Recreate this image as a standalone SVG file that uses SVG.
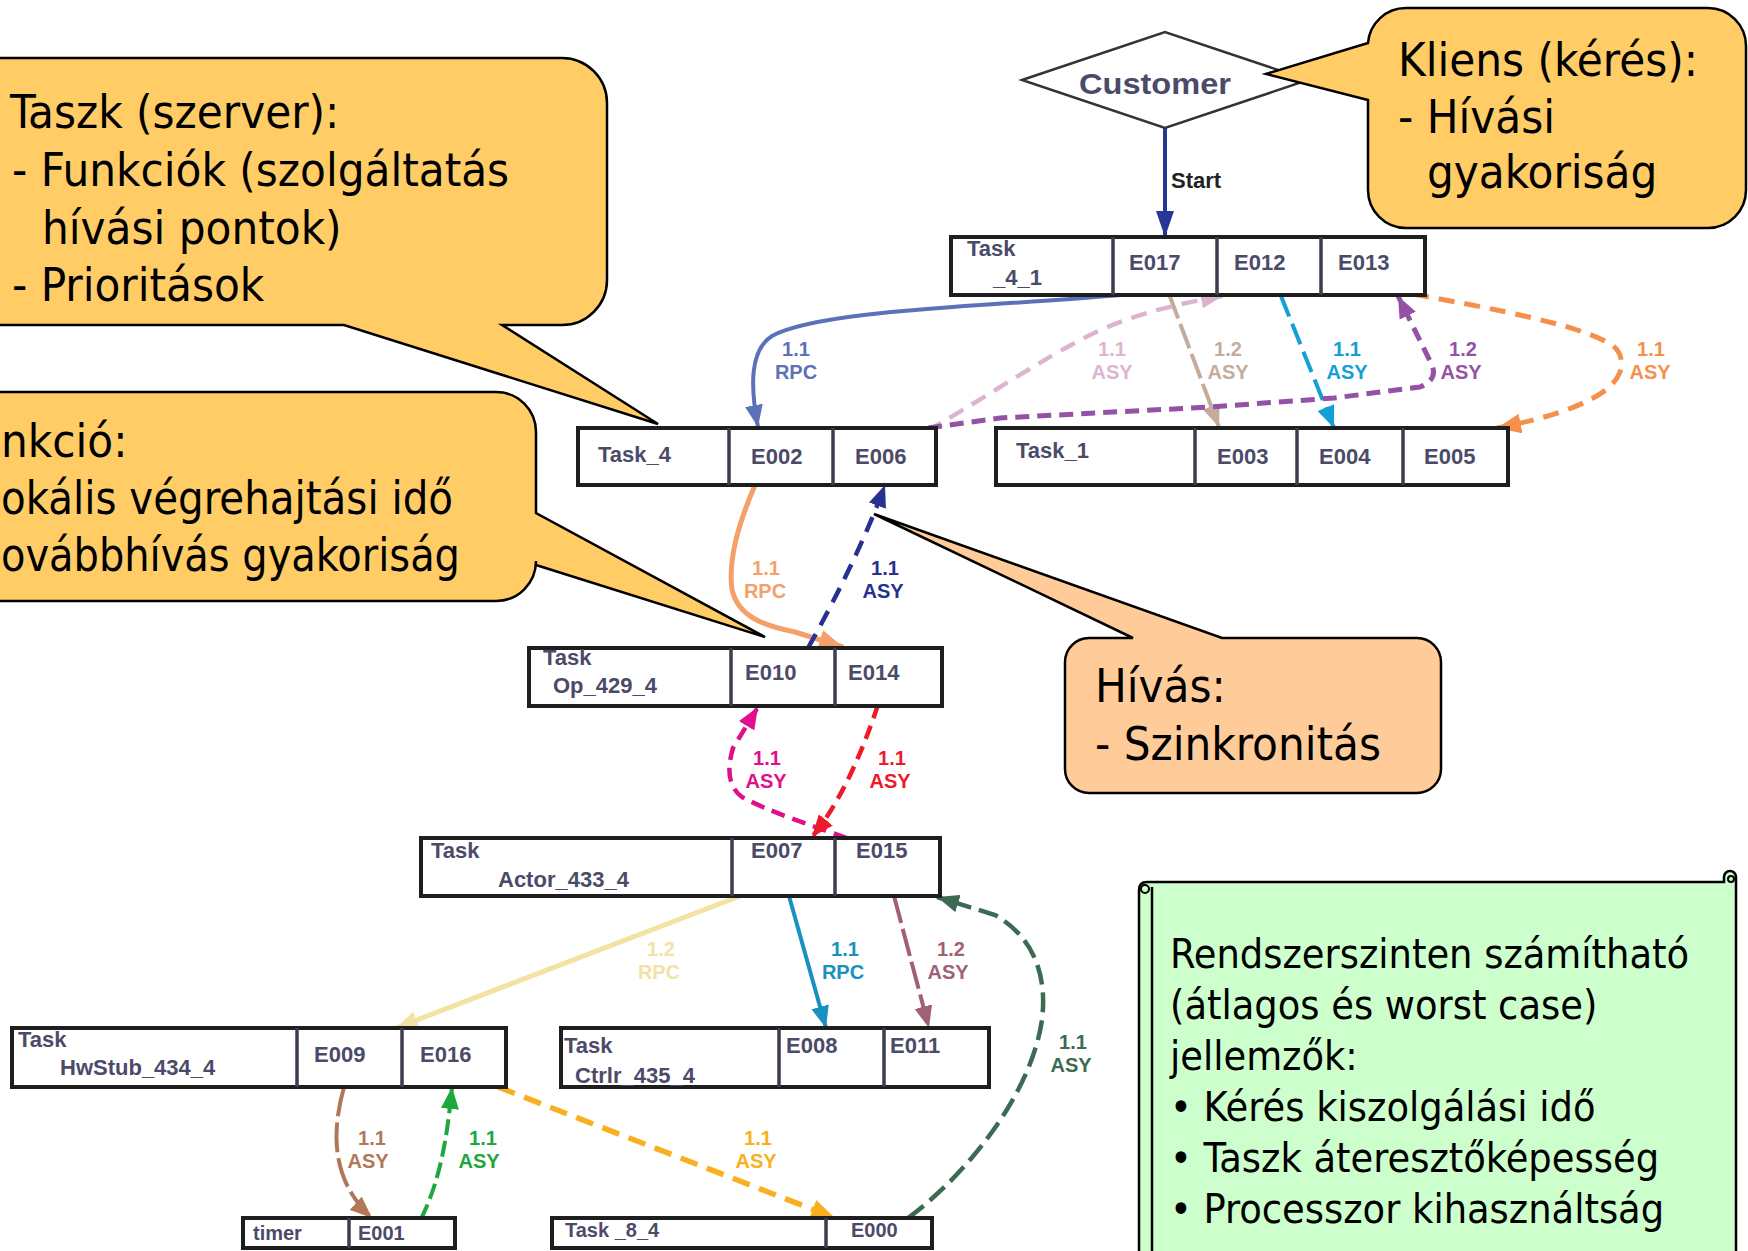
<svg xmlns="http://www.w3.org/2000/svg" width="1748" height="1251" viewBox="0 0 1748 1251">
<style>
.bg{fill:#fff}
.box{fill:#fff;stroke:#1e1e1e;stroke-width:4}
.dv{stroke:#3c3c4c;stroke-width:3.5}
.t{font-family:"Liberation Sans",Arial,sans-serif;font-weight:bold;font-size:22px;fill:#4b4b69}
.lb{font-family:"Liberation Sans",Arial,sans-serif;font-weight:bold;font-size:20px;text-anchor:middle}
.big{font-family:"DejaVu Sans Condensed","DejaVu Sans",sans-serif;font-stretch:condensed;font-size:47px;fill:#000}
.note{font-family:"DejaVu Sans Condensed","DejaVu Sans",sans-serif;font-stretch:condensed;font-size:41px;fill:#000}
.co{fill:#FFCC66;stroke:#000;stroke-width:2.5;stroke-linejoin:miter}
.c{fill:none}
</style>
<defs>
<marker id="a-blue" markerUnits="userSpaceOnUse" markerWidth="24" markerHeight="18" refX="22" refY="9" orient="auto"><path d="M0,0 L22,9 L0,18 Z" fill="#5b72b8"/></marker>
<marker id="a-pink" markerUnits="userSpaceOnUse" markerWidth="24" markerHeight="18" refX="22" refY="9" orient="auto"><path d="M0,0 L22,9 L0,18 Z" fill="#dcb4d0"/></marker>
<marker id="a-tan" markerUnits="userSpaceOnUse" markerWidth="24" markerHeight="18" refX="22" refY="9" orient="auto"><path d="M0,0 L22,9 L0,18 Z" fill="#c4ab9b"/></marker>
<marker id="a-cyan" markerUnits="userSpaceOnUse" markerWidth="24" markerHeight="18" refX="22" refY="9" orient="auto"><path d="M0,0 L22,9 L0,18 Z" fill="#12a0d6"/></marker>
<marker id="a-purple" markerUnits="userSpaceOnUse" markerWidth="24" markerHeight="18" refX="22" refY="9" orient="auto"><path d="M0,0 L22,9 L0,18 Z" fill="#9452a4"/></marker>
<marker id="a-orange" markerUnits="userSpaceOnUse" markerWidth="26" markerHeight="20" refX="24" refY="10" orient="auto"><path d="M0,0 L24,10 L0,20 Z" fill="#f4904c"/></marker>
<marker id="a-salmon" markerUnits="userSpaceOnUse" markerWidth="26" markerHeight="20" refX="24" refY="10" orient="auto"><path d="M0,0 L24,10 L0,20 Z" fill="#f4a06a"/></marker>
<marker id="a-navy" markerUnits="userSpaceOnUse" markerWidth="24" markerHeight="18" refX="22" refY="9" orient="auto"><path d="M0,0 L22,9 L0,18 Z" fill="#283090"/></marker>
<marker id="a-start" markerUnits="userSpaceOnUse" markerWidth="28" markerHeight="18" refX="26" refY="9" orient="auto"><path d="M0,0 L26,9 L0,18 Z" fill="#2a3598"/></marker>
<marker id="a-mag" markerUnits="userSpaceOnUse" markerWidth="24" markerHeight="18" refX="22" refY="9" orient="auto"><path d="M0,0 L22,9 L0,18 Z" fill="#e0108c"/></marker>
<marker id="a-red" markerUnits="userSpaceOnUse" markerWidth="24" markerHeight="18" refX="22" refY="9" orient="auto"><path d="M0,0 L22,9 L0,18 Z" fill="#ee1a2a"/></marker>
<marker id="a-pale" markerUnits="userSpaceOnUse" markerWidth="24" markerHeight="18" refX="22" refY="9" orient="auto"><path d="M0,0 L22,9 L0,18 Z" fill="#f2e2a4"/></marker>
<marker id="a-teal" markerUnits="userSpaceOnUse" markerWidth="24" markerHeight="18" refX="22" refY="9" orient="auto"><path d="M0,0 L22,9 L0,18 Z" fill="#1890c0"/></marker>
<marker id="a-mauve" markerUnits="userSpaceOnUse" markerWidth="24" markerHeight="18" refX="22" refY="9" orient="auto"><path d="M0,0 L22,9 L0,18 Z" fill="#a06078"/></marker>
<marker id="a-dgreen" markerUnits="userSpaceOnUse" markerWidth="24" markerHeight="18" refX="22" refY="9" orient="auto"><path d="M0,0 L22,9 L0,18 Z" fill="#3c6a52"/></marker>
<marker id="a-brown" markerUnits="userSpaceOnUse" markerWidth="24" markerHeight="18" refX="22" refY="9" orient="auto"><path d="M0,0 L22,9 L0,18 Z" fill="#b07858"/></marker>
<marker id="a-green" markerUnits="userSpaceOnUse" markerWidth="24" markerHeight="18" refX="22" refY="9" orient="auto"><path d="M0,0 L22,9 L0,18 Z" fill="#1ca83c"/></marker>
<marker id="a-gold" markerUnits="userSpaceOnUse" markerWidth="26" markerHeight="20" refX="24" refY="10" orient="auto"><path d="M0,0 L24,10 L0,20 Z" fill="#f8b020"/></marker>
</defs>
<rect class="bg" x="0" y="0" width="1748" height="1251"/>

<g id="connectors">
<path class="c" d="M1165,128 L1165,237" stroke="#2a3598" stroke-width="4" marker-end="url(#a-start)"/>
<path class="c" d="M1121,295 C980,307 820,310 772,336 C750,350 750,385 758,427" stroke="#5b72b8" stroke-width="4" marker-end="url(#a-blue)"/>
<path class="c" d="M927,431 C990,395 1040,360 1090,335 C1130,315 1180,303 1223,296" stroke="#dcb4d0" stroke-width="4.5" stroke-dasharray="16 10" marker-end="url(#a-pink)"/>
<path class="c" d="M1169,294 L1219,427" stroke="#c4ab9b" stroke-width="4" stroke-dasharray="26 6" marker-end="url(#a-tan)"/>
<path class="c" d="M1281,296 L1334,428" stroke="#12a0d6" stroke-width="4" stroke-dasharray="22 8" marker-end="url(#a-cyan)"/>
<path class="c" d="M928,428 L1000,418 L1210,407 L1334,398 L1420,387 Q1438,380 1432,365 L1398,296" stroke="#9452a4" stroke-width="5" stroke-dasharray="14 8" marker-end="url(#a-purple)"/>
<path class="c" d="M1413,294 C1500,310 1580,325 1612,345 Q1625,355 1620,372 C1610,400 1550,418 1497,428" stroke="#f4904c" stroke-width="5" stroke-dasharray="16 10" marker-end="url(#a-orange)"/>
<path class="c" d="M755,485 C738,525 728,560 732,590 C738,615 760,625 795,632 L843,647" stroke="#f4a06a" stroke-width="5" marker-end="url(#a-salmon)"/>
<path class="c" d="M808,648 C835,600 865,540 885,485" stroke="#283090" stroke-width="4.5" stroke-dasharray="16 10" marker-end="url(#a-navy)"/>
<path class="c" d="M847,838 C810,825 770,812 742,797 C726,785 728,765 733,748 L758,707" stroke="#e0108c" stroke-width="4.5" stroke-dasharray="14 8" marker-end="url(#a-mag)"/>
<path class="c" d="M878,705 C862,752 842,800 812,837" stroke="#ee1a2a" stroke-width="4.5" stroke-dasharray="14 8" marker-end="url(#a-red)"/>
<path class="c" d="M740,896 L396,1028" stroke="#f2e2a4" stroke-width="5" marker-end="url(#a-pale)"/>
<path class="c" d="M789,896 L826,1028" stroke="#1890c0" stroke-width="4" marker-end="url(#a-teal)"/>
<path class="c" d="M894,896 L929,1028" stroke="#a06078" stroke-width="4" stroke-dasharray="28 6" marker-end="url(#a-mauve)"/>
<path class="c" d="M908,1218 C960,1180 1030,1100 1042,1020 C1048,970 1030,935 995,915 L937,897" stroke="#3c6a52" stroke-width="4.5" stroke-dasharray="20 8" marker-end="url(#a-dgreen)"/>
<path class="c" d="M344,1087 C332,1130 330,1180 372,1218" stroke="#b07858" stroke-width="4" stroke-dasharray="30 6" marker-end="url(#a-brown)"/>
<path class="c" d="M421,1219 C440,1180 447,1140 452,1087" stroke="#1ca83c" stroke-width="4" stroke-dasharray="16 6" marker-end="url(#a-green)"/>
<path class="c" d="M498,1087 L835,1218" stroke="#f8b020" stroke-width="5.5" stroke-dasharray="18 10" marker-end="url(#a-gold)"/>

<text class="lb" x="1171" y="188" style="text-anchor:start;font-size:22px" fill="#222">Start</text>
<text class="lb" fill="#5b72b8"><tspan x="796" y="356">1.1</tspan><tspan x="796" y="379">RPC</tspan></text>
<text class="lb" fill="#dcb4d0"><tspan x="1112" y="356">1.1</tspan><tspan x="1112" y="379">ASY</tspan></text>
<text class="lb" fill="#c4ab9b"><tspan x="1228" y="356">1.2</tspan><tspan x="1228" y="379">ASY</tspan></text>
<text class="lb" fill="#12a0d6"><tspan x="1347" y="356">1.1</tspan><tspan x="1347" y="379">ASY</tspan></text>
<text class="lb" fill="#9452a4"><tspan x="1463" y="356">1.2</tspan><tspan x="1461" y="379">ASY</tspan></text>
<text class="lb" fill="#f4904c"><tspan x="1651" y="356">1.1</tspan><tspan x="1650" y="379">ASY</tspan></text>
<text class="lb" fill="#f4a06a"><tspan x="766" y="575">1.1</tspan><tspan x="765" y="598">RPC</tspan></text>
<text class="lb" fill="#283090"><tspan x="885" y="575">1.1</tspan><tspan x="883" y="598">ASY</tspan></text>
<text class="lb" fill="#e0108c"><tspan x="767" y="765">1.1</tspan><tspan x="766" y="788">ASY</tspan></text>
<text class="lb" fill="#ee1a2a"><tspan x="892" y="765">1.1</tspan><tspan x="890" y="788">ASY</tspan></text>
<text class="lb" fill="#f2e2a4"><tspan x="661" y="956">1.2</tspan><tspan x="659" y="979">RPC</tspan></text>
<text class="lb" fill="#1890c0"><tspan x="845" y="956">1.1</tspan><tspan x="843" y="979">RPC</tspan></text>
<text class="lb" fill="#a06078"><tspan x="951" y="956">1.2</tspan><tspan x="948" y="979">ASY</tspan></text>
<text class="lb" fill="#3c6a52"><tspan x="1073" y="1049">1.1</tspan><tspan x="1071" y="1072">ASY</tspan></text>
<text class="lb" fill="#b07858"><tspan x="372" y="1145">1.1</tspan><tspan x="368" y="1168">ASY</tspan></text>
<text class="lb" fill="#1ca83c"><tspan x="483" y="1145">1.1</tspan><tspan x="479" y="1168">ASY</tspan></text>
<text class="lb" fill="#f8b020"><tspan x="758" y="1145">1.1</tspan><tspan x="756" y="1168">ASY</tspan></text>
</g>

<g id="customer">
<polygon points="1022,80 1165,32 1308,80 1165,128" fill="#fff" stroke="#333" stroke-width="2.5"/>
<text class="t" x="1155" y="94" text-anchor="middle" style="font-size:30px" textLength="152" lengthAdjust="spacingAndGlyphs">Customer</text>
</g>

<g id="task_4_1">
<rect class="box" x="951" y="237" width="474" height="58"/>
<path class="dv" d="M1113,237 V295 M1217,237 V295 M1321,237 V295"/>
<text class="t" x="967" y="256">Task</text>
<text class="t" x="993" y="285">_4_1</text>
<text class="t" x="1129" y="270">E017</text>
<text class="t" x="1234" y="270">E012</text>
<text class="t" x="1338" y="270">E013</text>
</g>

<g id="task_4">
<rect class="box" x="578" y="428" width="358" height="57"/>
<path class="dv" d="M729,428 V485 M833,428 V485"/>
<text class="t" x="598" y="462">Task_4</text>
<text class="t" x="751" y="464">E002</text>
<text class="t" x="855" y="464">E006</text>
</g>

<g id="task_1">
<rect class="box" x="996" y="428" width="512" height="57"/>
<path class="dv" d="M1195,428 V485 M1297,428 V485 M1403,428 V485"/>
<text class="t" x="1016" y="458">Task_1</text>
<text class="t" x="1217" y="464">E003</text>
<text class="t" x="1319" y="464">E004</text>
<text class="t" x="1424" y="464">E005</text>
</g>

<g id="task_op_429_4">
<rect class="box" x="529" y="648" width="413" height="58"/>
<path class="dv" d="M731,648 V706 M835,648 V706"/>
<text class="t" x="543" y="665">Task</text>
<text class="t" x="553" y="693">Op_429_4</text>
<text class="t" x="745" y="680">E010</text>
<text class="t" x="848" y="680">E014</text>
</g>

<g id="task_actor_433_4">
<rect class="box" x="421" y="838" width="519" height="58"/>
<path class="dv" d="M732,838 V896 M835,838 V896"/>
<text class="t" x="431" y="858">Task</text>
<text class="t" x="498" y="887">Actor_433_4</text>
<text class="t" x="751" y="858">E007</text>
<text class="t" x="856" y="858">E015</text>
</g>

<g id="task_hwstub_434_4">
<rect class="box" x="12" y="1028" width="494" height="59"/>
<path class="dv" d="M297,1028 V1087 M402,1028 V1087"/>
<text class="t" x="18" y="1047">Task</text>
<text class="t" x="60" y="1075">HwStub_434_4</text>
<text class="t" x="314" y="1062">E009</text>
<text class="t" x="420" y="1062">E016</text>
</g>

<g id="task_ctrlr_435_4">
<rect class="box" x="561" y="1028" width="428" height="59"/>
<path class="dv" d="M779,1028 V1087 M884,1028 V1087"/>
<text class="t" x="564" y="1053">Task</text>
<text class="t" x="575" y="1083">Ctrlr_435_4</text>
<text class="t" x="786" y="1053">E008</text>
<text class="t" x="890" y="1053">E011</text>
</g>

<g id="timer">
<rect class="box" x="243" y="1218" width="212" height="30"/>
<path class="dv" d="M349,1218 V1248"/>
<text class="t" x="253" y="1240" style="font-size:20px">timer</text>
<text class="t" x="358" y="1240" style="font-size:20px">E001</text>
</g>

<g id="task_8_4">
<rect class="box" x="552" y="1218" width="380" height="30"/>
<path class="dv" d="M826,1218 V1248"/>
<text class="t" x="565" y="1237" style="font-size:20px">Task _8_4</text>
<text class="t" x="851" y="1237" style="font-size:20px">E000</text>
</g>

<g id="callout_taszk">
<path class="co" d="M-12,58 H562 A45,45 0 0 1 607,103 V280 A45,45 0 0 1 562,325 H502 L658,424 L344,325 H-12 Z"/>
<text class="big" x="10" y="128">Taszk (szerver):</text>
<text class="big" x="12" y="186">- Funkciók (szolgáltatás</text>
<text class="big" x="42" y="244">hívási pontok)</text>
<text class="big" x="12" y="301">- Prioritások</text>
</g>

<g id="callout_funkcio">
<path class="co" d="M-60,392 H496 A40,40 0 0 1 536,432 V513 L765,637 L536,565 V561 A40,40 0 0 1 496,601 H-60 Z"/>
<text class="big" x="1" y="457">nkció:</text>
<text class="big" x="1" y="514" textLength="452" lengthAdjust="spacingAndGlyphs">okális végrehajtási idő</text>
<text class="big" x="1" y="571" textLength="459" lengthAdjust="spacingAndGlyphs">ovábbhívás gyakoriság</text>
</g>

<g id="callout_kliens">
<path class="co" d="M1406,8 H1708 A38,38 0 0 1 1746,46 V190 A38,38 0 0 1 1708,228 H1406 A38,38 0 0 1 1368,190 V100 L1266,74 L1368,43 A38,38 0 0 1 1406,8 Z"/>
<text class="big" x="1398" y="76">Kliens (kérés):</text>
<text class="big" x="1398" y="133">- Hívási</text>
<text class="big" x="1427" y="188">gyakoriság</text>
</g>

<g id="callout_hivas">
<path class="co" d="M1089,638 H1133 L874,514 L1222,638 H1417 A24,24 0 0 1 1441,662 V769 A24,24 0 0 1 1417,793 H1089 A24,24 0 0 1 1065,769 V662 A24,24 0 0 1 1089,638 Z" style="fill:#FFCC99"/>
<text class="big" x="1095" y="702">Hívás:</text>
<text class="big" x="1095" y="760">- Szinkronitás</text>
</g>

<g id="note">
<path d="M1139,1262 V890 Q1139,882 1147,882 H1724 V877 A6,6 0 0 1 1736,877 V1262 Z" fill="#CCFFCC" stroke="#000" stroke-width="2.5"/>
<circle cx="1731" cy="879" r="3" fill="none" stroke="#000" stroke-width="2"/>
<circle cx="1145" cy="889" r="4" fill="none" stroke="#000" stroke-width="2"/>
<path d="M1152,887 V1262" fill="none" stroke="#000" stroke-width="2.5"/>
<text class="note" x="1170" y="968">Rendszerszinten számítható</text>
<text class="note" x="1170" y="1019">(átlagos és worst case)</text>
<text class="note" x="1170" y="1070">jellemzők:</text>
<text class="note" x="1170" y="1121">• Kérés kiszolgálási idő</text>
<text class="note" x="1170" y="1172">• Taszk áteresztőképesség</text>
<text class="note" x="1170" y="1223">• Processzor kihasználtság</text>
</g>
</svg>
